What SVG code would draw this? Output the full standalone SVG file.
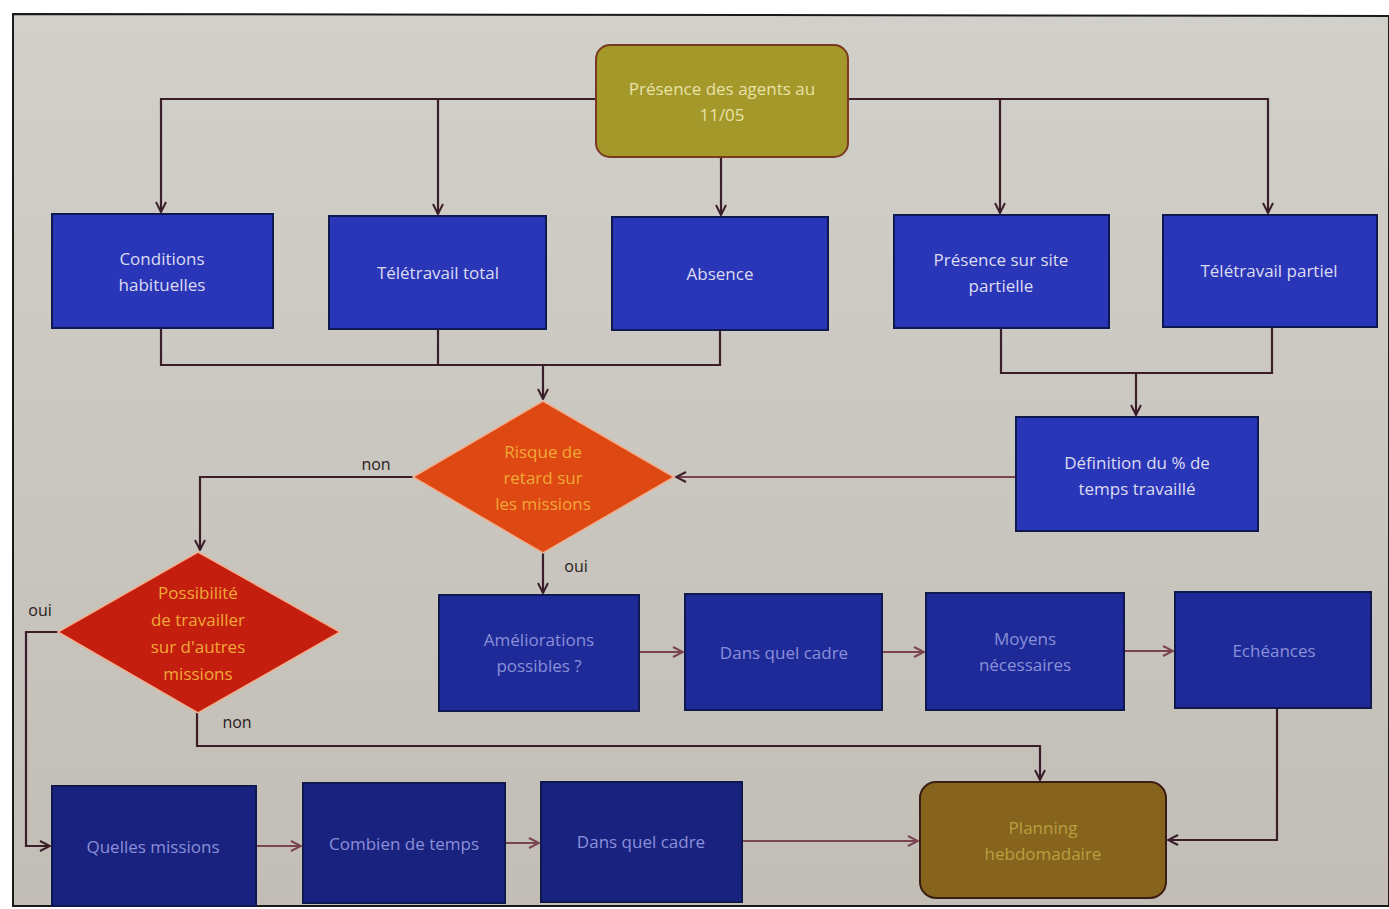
<svg xmlns="http://www.w3.org/2000/svg" width="1389" height="909" viewBox="0 0 1389 909">
<style>
.box{stroke:#101850;stroke-width:2}
.b1{fill:#2a36b8}
.b2{fill:#1e2a98}
.b3{fill:#1a2280}
.t{font-family:"Open Sans","Liberation Sans",sans-serif;font-size:17px;text-anchor:middle}
.tw{fill:#dcdcf0}
.tl{fill:#8a90d8}
.to{fill:#f0a838}
.lbl{font-family:"Open Sans","Liberation Sans",sans-serif;font-size:16px;fill:#2a1a20}
.c{fill:none;stroke:#3a1e2a;stroke-width:2.2}
.c2{fill:none;stroke:#7a4450;stroke-width:2.2}
</style>
<defs>
<linearGradient id="bg" x1="0" y1="0" x2="0" y2="1">
<stop offset="0" stop-color="#d2d0ca"/>
<stop offset="1" stop-color="#c2beb6"/>
</linearGradient>
<marker id="a" viewBox="0 0 12 12" refX="11" refY="6" markerWidth="12" markerHeight="12" markerUnits="userSpaceOnUse" orient="auto">
<path d="M1,1 L11,6 L1,11" fill="none" stroke="#3a1e2a" stroke-width="2"/>
</marker>
<marker id="a2" viewBox="0 0 12 12" refX="11" refY="6" markerWidth="12" markerHeight="12" markerUnits="userSpaceOnUse" orient="auto">
<path d="M1,1 L11,6 L1,11" fill="none" stroke="#7a4450" stroke-width="2"/>
</marker>
</defs>
<rect width="1389" height="909" fill="#ffffff"/>
<path d="M13,14 L1389,16 L1389,906 L13,906 Z" fill="url(#bg)" stroke="#1a1a1a" stroke-width="2"/>

<g id="connectors">
<path class="c" d="M596,99 H161 V212" marker-end="url(#a)"/>
<path class="c" d="M438,99 V214" marker-end="url(#a)"/>
<path class="c" d="M721,157 V215" marker-end="url(#a)"/>
<path class="c" d="M848,99 H1268 V213" marker-end="url(#a)"/>
<path class="c" d="M1000,99 V213" marker-end="url(#a)"/>
<path class="c" d="M161,328 V365 H720 V330"/>
<path class="c" d="M438,329 V365"/>
<path class="c" d="M543,365 V399" marker-end="url(#a)"/>
<path class="c" d="M1001,328 V373 H1272 V327"/>
<path class="c" d="M1136,373 V415" marker-end="url(#a)"/>
<path class="c2" d="M1016,477 H676" marker-end="url(#a)"/>
<path class="c" d="M413,477 H200 V550" marker-end="url(#a)"/>
<path class="c" d="M543,553 V593" marker-end="url(#a)"/>
<path class="c" d="M58,632 H26 V846 H50" marker-end="url(#a)"/>
<path class="c" d="M197,713 V746 H1040 V780" marker-end="url(#a)"/>
<path class="c2" d="M639,652 H683" marker-end="url(#a2)"/>
<path class="c2" d="M882,652 H924" marker-end="url(#a2)"/>
<path class="c2" d="M1124,651 H1173" marker-end="url(#a2)"/>
<path class="c" d="M1277,708 V840 H1168" marker-end="url(#a)"/>
<path class="c2" d="M256,846 H301" marker-end="url(#a2)"/>
<path class="c2" d="M505,843 H539" marker-end="url(#a2)"/>
<path class="c2" d="M742,841 H918" marker-end="url(#a2)"/>
<text class="lbl" x="376" y="470" text-anchor="middle">non</text>
<text class="lbl" x="576" y="572" text-anchor="middle">oui</text>
<text class="lbl" x="40" y="616" text-anchor="middle">oui</text>
<text class="lbl" x="237" y="728" text-anchor="middle">non</text>
</g>

<g id="n-presence">
<rect x="596" y="45" width="252" height="112" rx="14" fill="#a4982a" stroke="#7a3a20" stroke-width="2"/>
<text class="t" x="722" y="95" fill="#e8e2a8">Présence des agents au</text>
<text class="t" x="722" y="121" fill="#e8e2a8">11/05</text>
</g>

<g id="n-conditions">
<rect class="box b1" x="52" y="214" width="221" height="114"/>
<text class="t tw" x="162" y="265">Conditions</text>
<text class="t tw" x="162" y="291">habituelles</text>
</g>
<g id="n-teletotal">
<rect class="box b1" x="329" y="216" width="217" height="113"/>
<text class="t tw" x="438" y="279">Télétravail total</text>
</g>
<g id="n-absence">
<rect class="box b1" x="612" y="217" width="216" height="113"/>
<text class="t tw" x="720" y="280">Absence</text>
</g>
<g id="n-presence-partielle">
<rect class="box b1" x="894" y="215" width="215" height="113"/>
<text class="t tw" x="1001" y="266">Présence sur site</text>
<text class="t tw" x="1001" y="292">partielle</text>
</g>
<g id="n-telepartiel">
<rect class="box b1" x="1163" y="215" width="214" height="112"/>
<text class="t tw" x="1269" y="277">Télétravail partiel</text>
</g>

<g id="n-definition">
<rect class="box b1" x="1016" y="417" width="242" height="114"/>
<text class="t tw" x="1137" y="469">Définition du % de</text>
<text class="t tw" x="1137" y="495">temps travaillé</text>
</g>

<g id="n-risque">
<polygon points="543,401 674,477 543,553 413,477" fill="#de4812" stroke="#f0b090" stroke-width="1.5"/>
<text class="t to" x="543" y="458">Risque de</text>
<text class="t to" x="543" y="484">retard sur</text>
<text class="t to" x="543" y="510">les missions</text>
</g>

<g id="n-possibilite">
<polygon points="198,552 340,632 198,713 58,632" fill="#c41e0e" stroke="#f0b090" stroke-width="1.5"/>
<text class="t to" x="198" y="599">Possibilité</text>
<text class="t to" x="198" y="626">de travailler</text>
<text class="t to" x="198" y="653">sur d'autres</text>
<text class="t to" x="198" y="680">missions</text>
</g>

<g id="n-ameliorations">
<rect class="box b2" x="439" y="595" width="200" height="116"/>
<text class="t tl" x="539" y="646">Améliorations</text>
<text class="t tl" x="539" y="672">possibles ?</text>
</g>
<g id="n-cadre1">
<rect class="box b2" x="685" y="594" width="197" height="116"/>
<text class="t tl" x="784" y="659">Dans quel cadre</text>
</g>
<g id="n-moyens">
<rect class="box b2" x="926" y="593" width="198" height="117"/>
<text class="t tl" x="1025" y="645">Moyens</text>
<text class="t tl" x="1025" y="671">nécessaires</text>
</g>
<g id="n-echeances">
<rect class="box b2" x="1175" y="592" width="196" height="116"/>
<text class="t tl" x="1274" y="657">Echéances</text>
</g>

<g id="n-quelles">
<rect class="box b3" x="52" y="786" width="204" height="120"/>
<text class="t tl" x="153" y="853">Quelles missions</text>
</g>
<g id="n-combien">
<rect class="box b3" x="303" y="783" width="202" height="120"/>
<text class="t tl" x="404" y="850">Combien de temps</text>
</g>
<g id="n-cadre2">
<rect class="box b3" x="541" y="782" width="201" height="120"/>
<text class="t tl" x="641" y="848">Dans quel cadre</text>
</g>
<g id="n-planning">
<rect x="920" y="782" width="246" height="116" rx="16" fill="#86641e" stroke="#3a1e14" stroke-width="2"/>
<text class="t" x="1043" y="834" fill="#b8a040">Planning</text>
<text class="t" x="1043" y="860" fill="#b8a040">hebdomadaire</text>
</g>
</svg>
